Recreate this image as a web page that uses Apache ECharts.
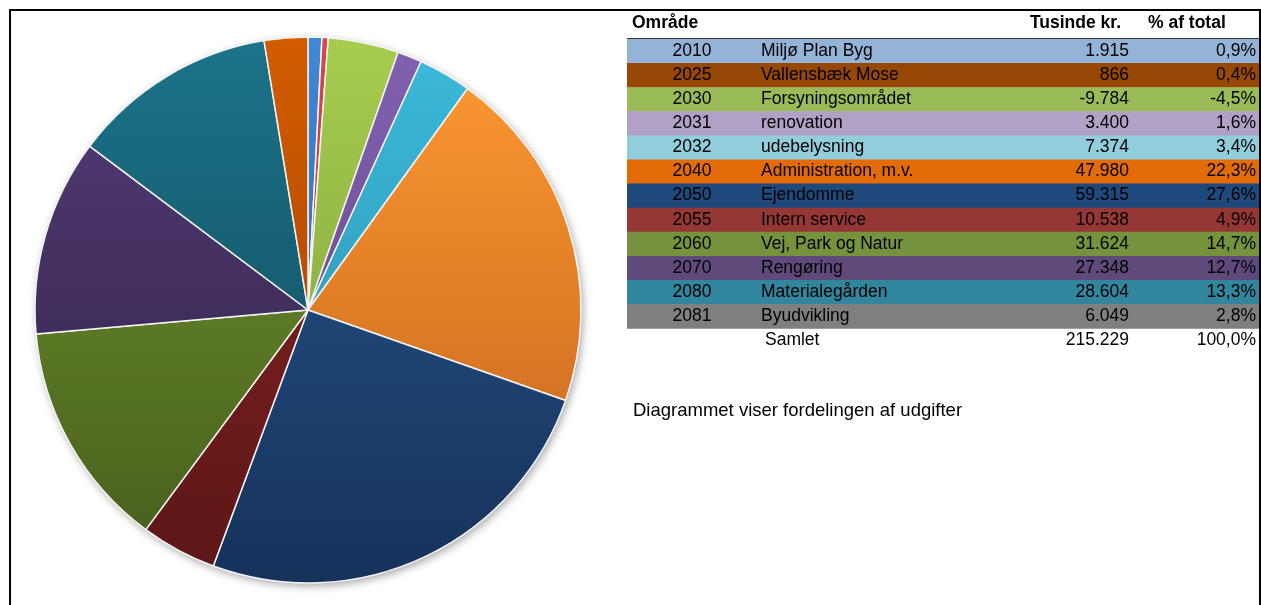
<!DOCTYPE html>
<html>
<head>
<meta charset="utf-8">
<script src="https://cdn.jsdelivr.net/npm/echarts@6/dist/echarts.min.js"></script>
<style>
html,body{margin:0;padding:0;background:#fff;}
#c{width:1261px;height:605px;}
</style>
</head>
<body>
<div id="c"></div>
<script>
// ---- data ----
const years = ['2010','2025','2030','2031','2032','2040','2050','2055','2060','2070','2080','2081'];
const names = ['Miljø Plan Byg','Vallensbæk Mose','Forsyningsområdet','renovation','udebelysning','Administration, m.v.','Ejendomme','Intern service','Vej, Park og Natur','Rengøring','Materialegården','Byudvikling'];
const values = [1915, 866, -9784, 3400, 7374, 47980, 59315, 10538, 31624, 27348, 28604, 6049];
const headers = ['Område', 'Tusinde kr.', '% af total'];
const totalName = 'Samlet';
const description = 'Diagrammet viser fordelingen af udgifter';

// ---- styles ----
const rowColors = ['#95b3d7','#974806','#9bbb59','#b2a1c7','#92cddc','#e36c09','#1f497d','#953735','#76923c','#604a7b','#31859c','#7f7f7f'];
const sliceTop = ['#4088d6','#d84848','#a6cc4e','#8262b0','#3cbadc','#ff9a32','#2a5a93','#8c2626','#72982d','#543e7a','#1c7389','#d45c02'];
const sliceBot = ['#2a5e9a','#9a2e2e','#7a9a3a','#5a4080','#2a8aa5','#c0601c','#15325a','#5c1616','#465c1c','#2d1f40','#104656','#943e00'];
const FONT = "'Liberation Sans', Arial, sans-serif";

const total = values.reduce((a, b) => a + b, 0);
function fmt(v) {
  const s = Math.abs(v).toString().replace(/\B(?=(\d{3})+(?!\d))/g, '.');
  return (v < 0 ? '-' : '') + s;
}
function pct(v) {
  return (v / total * 100).toFixed(1).replace('.', ',') + '%';
}

const chart = echarts.init(document.getElementById('c'));

const pieData = values.map((v, i) => ({
  name: names[i],
  value: Math.abs(v),
  itemStyle: {
    color: new echarts.graphic.LinearGradient(0, 37, 0, 583, [
      { offset: 0, color: sliceTop[i] },
      { offset: 1, color: sliceBot[i] }
    ], true)
  }
}));

const graphics = [];
// frame
graphics.push({ type: 'rect', shape: { x: 10, y: 10, width: 1250, height: 700 },
  style: { fill: 'none', stroke: '#000', lineWidth: 2 }, z: 10 });
// header
const ROW_Y0 = 39, ROW_H = 24.1, TX = 627, TW = 632;
const HF = 'bold 17.5px ' + FONT, RF = '17.5px ' + FONT;
graphics.push({ type: 'text', style: { text: headers[0], x: 632, y: 23, font: HF, fill: '#000', textAlign: 'left', textVerticalAlign: 'middle' } });
graphics.push({ type: 'text', style: { text: headers[1], x: 1121, y: 23, font: HF, fill: '#000', textAlign: 'right', textVerticalAlign: 'middle' } });
graphics.push({ type: 'text', style: { text: headers[2], x: 1148, y: 23, font: HF, fill: '#000', textAlign: 'left', textVerticalAlign: 'middle' } });
// rows
years.forEach((y, i) => {
  const top = ROW_Y0 + i * ROW_H;
  const cy = top + ROW_H / 2;
  graphics.push({ type: 'rect', shape: { x: TX, y: top, width: TW, height: ROW_H + 0.5 }, style: { fill: rowColors[i] } });
  graphics.push({ type: 'text', style: { text: y, x: 692, y: cy, font: RF, fill: '#000', textAlign: 'center', textVerticalAlign: 'middle' } });
  graphics.push({ type: 'text', style: { text: names[i], x: 761, y: cy, font: RF, fill: '#000', textAlign: 'left', textVerticalAlign: 'middle' } });
  graphics.push({ type: 'text', style: { text: fmt(values[i]), x: 1129, y: cy, font: RF, fill: '#000', textAlign: 'right', textVerticalAlign: 'middle' } });
  graphics.push({ type: 'text', style: { text: pct(values[i]), x: 1256, y: cy, font: RF, fill: '#000', textAlign: 'right', textVerticalAlign: 'middle' } });
});
graphics.push({ type: 'line', shape: { x1: TX, y1: 38.5, x2: 1259, y2: 38.5 }, style: { stroke: '#333', lineWidth: 1 } });
// total row
const tcy = ROW_Y0 + years.length * ROW_H + ROW_H / 2;
graphics.push({ type: 'text', style: { text: totalName, x: 765, y: tcy, font: RF, fill: '#000', textAlign: 'left', textVerticalAlign: 'middle' } });
graphics.push({ type: 'text', style: { text: fmt(total), x: 1129, y: tcy, font: RF, fill: '#000', textAlign: 'right', textVerticalAlign: 'middle' } });
graphics.push({ type: 'text', style: { text: '100,0%', x: 1256, y: tcy, font: RF, fill: '#000', textAlign: 'right', textVerticalAlign: 'middle' } });
// description
graphics.push({ type: 'text', style: { text: description, x: 633, y: 411, font: '18.5px ' + FONT, fill: '#000', textAlign: 'left', textVerticalAlign: 'middle' } });

chart.setOption({
  animation: false,
  backgroundColor: '#fff',
  graphic: graphics,
  series: [
    {
      type: 'pie',
      silent: true,
      center: [308, 310],
      radius: 273,
      label: { show: false },
      labelLine: { show: false },
      data: [{ value: 1, name: '', itemStyle: { color: '#fff', shadowBlur: 8, shadowOffsetX: 2, shadowOffsetY: 3, shadowColor: 'rgba(0,0,0,0.35)' } }],
      z: 1
    },
    {
      type: 'pie',
      center: [308, 310],
      radius: 273,
      startAngle: 90,
      clockwise: true,
      label: { show: false },
      labelLine: { show: false },
      itemStyle: { borderColor: '#f4f4f4', borderWidth: 1.5 },
      data: pieData,
      z: 2
    }
  ]
});
</script>
</body>
</html>
